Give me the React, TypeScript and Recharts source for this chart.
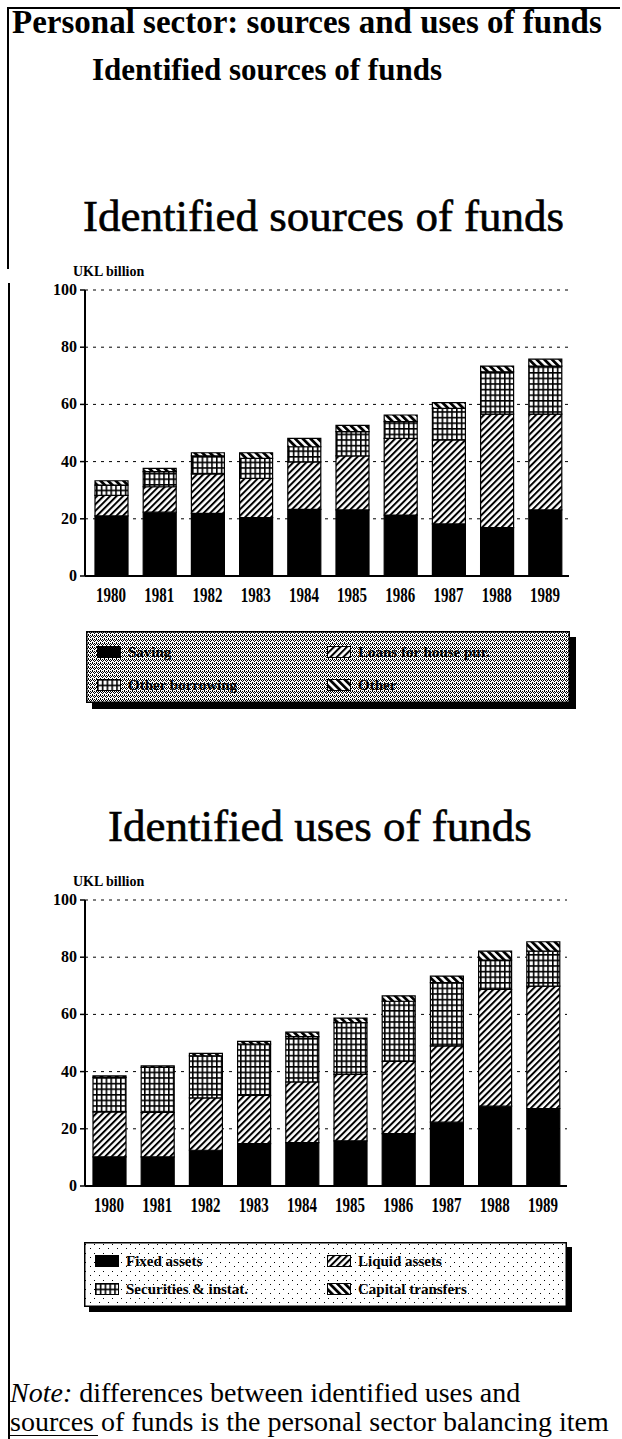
import { BarChart, Bar, XAxis, YAxis, CartesianGrid } from 'recharts'

// Personal sector flows, UKL billion
const years = ['1980', '1981', '1982', '1983', '1984', '1985', '1986', '1987', '1988', '1989']

const saving = [21.0, 22.3, 21.9, 20.4, 23.3, 23.1, 21.3, 18.2, 16.9, 23.1]
const housingLoans = [7.2, 8.9, 13.8, 13.7, 16.6, 18.9, 26.8, 29.4, 39.7, 33.5]
const otherBorrowing = [3.6, 5.3, 6.3, 7.0, 5.3, 8.5, 5.9, 11.0, 14.8, 16.8]
const otherSources = [1.5, 1.1, 1.1, 2.0, 2.9, 2.2, 2.3, 2.0, 2.0, 2.4]

const fixedAssets = [10.2, 10.2, 12.5, 14.8, 15.2, 15.8, 18.3, 22.3, 27.9, 27.1]
const liquidAssets = [15.7, 15.5, 18.3, 16.9, 21.2, 23.2, 25.3, 26.7, 40.8, 42.8]
const securities = [12.1, 15.8, 14.7, 17.9, 15.8, 18.1, 21.0, 22.1, 10.3, 12.2]
const capitalTransfers = [0.5, 0.5, 0.9, 1.0, 1.6, 1.6, 1.9, 2.3, 3.1, 3.3]

const yTicks = [0, 20, 40, 60, 80, 100]

const sourceSeries = [
  { key: 'saving', name: 'Saving', fill: '#000' },
  { key: 'loans', name: 'Loans for house pur.', fill: 'url(#pat-fwd)' },
  { key: 'borrowing', name: 'Other borrowing', fill: 'url(#pat-grid)' },
  { key: 'other', name: 'Other', fill: 'url(#pat-back)' },
]

const useSeries = [
  { key: 'fixed', name: 'Fixed assets', fill: '#000' },
  { key: 'liquid', name: 'Liquid assets', fill: 'url(#pat-fwd)' },
  { key: 'securities', name: 'Securities & instat.', fill: 'url(#pat-grid)' },
  { key: 'capital', name: 'Capital transfers', fill: 'url(#pat-back)' },
]

const sourcesData = years.map((year, i) => ({
  year,
  saving: saving[i],
  loans: housingLoans[i],
  borrowing: otherBorrowing[i],
  other: otherSources[i],
}))

const usesData = years.map((year, i) => ({
  year,
  fixed: fixedAssets[i],
  liquid: liquidAssets[i],
  securities: securities[i],
  capital: capitalTransfers[i],
}))

const SERIF = '"Liberation Serif", "Times New Roman", serif'

function Patterns() {
  return (
    <svg width={0} height={0} style={{ position: 'absolute' }}>
      <defs>
        <pattern id="pat-fwd" patternUnits="userSpaceOnUse" width={4.6} height={4.6} patternTransform="rotate(45)">
          <rect width={4.6} height={4.6} fill="#fff" />
          <rect width={2} height={4.6} fill="#000" />
        </pattern>
        <pattern id="pat-back" patternUnits="userSpaceOnUse" width={5.4} height={5.4} patternTransform="rotate(-45)">
          <rect width={5.4} height={5.4} fill="#fff" />
          <rect width={2.8} height={5.4} fill="#000" />
        </pattern>
        <pattern id="pat-grid" patternUnits="userSpaceOnUse" width={4.8} height={5.6}>
          <rect width={4.8} height={5.6} fill="#000" />
          <rect x={1.6} y={1.6} width={3.2} height={4} fill="#fff" />
        </pattern>
        <pattern id="dither-dense" patternUnits="userSpaceOnUse" width={4} height={4}>
          <rect width={4} height={4} fill="#fff" />
          <rect x={0} y={0} width={1} height={1} fill="#000" />
          <rect x={2} y={0} width={1} height={1} fill="#000" />
          <rect x={1} y={1} width={1} height={1} fill="#000" />
          <rect x={3} y={1} width={1} height={1} fill="#000" />
          <rect x={0} y={2} width={1} height={1} fill="#000" />
          <rect x={2} y={3} width={1} height={1} fill="#000" />
        </pattern>
        <pattern id="dither-light" patternUnits="userSpaceOnUse" width={9} height={9}>
          <rect width={9} height={9} fill="#fff" />
          <rect x={1} y={2} width={1} height={1} fill="#000" />
          <rect x={6} y={6} width={1} height={1} fill="#000" />
        </pattern>
      </defs>
    </svg>
  )
}

function YTick({ x, y, payload }: any) {
  return (
    <text x={x} y={y} dy={5} textAnchor="end" fontFamily={SERIF} fontWeight="bold" fontSize={16} fill="#000">
      {payload.value}
    </text>
  )
}

function XTick({ x, y, payload }: any) {
  return (
    <g transform={`translate(${x},${y})`}>
      <text y={13} transform="scale(1,1.35)" textAnchor="middle" fontFamily={SERIF} fontWeight="bold" fontSize={15} fill="#000">
        {payload.value}
      </text>
    </g>
  )
}

interface StackedProps {
  data: any[]
  series: { key: string; name: string; fill: string }[]
  padLeft: number
  marginRight: number
}

function StackedFunds({ data, series, padLeft, marginRight }: StackedProps) {
  return (
    <BarChart width={600} height={360} data={data} margin={{ top: 30, right: marginRight, left: 0, bottom: 0 }}>
      <CartesianGrid vertical={false} stroke="#000" strokeWidth={1} strokeDasharray="3 5" />
      <XAxis
        dataKey="year"
        height={44}
        tickLine={false}
        axisLine={{ stroke: '#000', strokeWidth: 2 }}
        tick={<XTick />}
        padding={{ left: padLeft, right: 0 }}
        interval={0}
      />
      <YAxis
        width={85}
        domain={[0, 100]}
        ticks={yTicks}
        tickSize={5}
        tickMargin={3}
        axisLine={{ stroke: '#000', strokeWidth: 2 }}
        tickLine={{ stroke: '#000', strokeWidth: 1.5 }}
        tick={<YTick />}
      />
      {series.map((s) => (
        <Bar
          key={s.key}
          dataKey={s.key}
          name={s.name}
          stackId="a"
          barSize={33}
          fill={s.fill}
          stroke="#000"
          strokeWidth={1.2}
          isAnimationActive={false}
        />
      ))}
    </BarChart>
  )
}

interface LegendBoxProps {
  series: { key: string; name: string; fill: string }[]
  left: number
  top: number
  width: number
  height: number
  background: string
  rows: number[]
  cols: number[]
  shadow: number
}

function LegendBox({ series, left, top, width, height, background, rows, cols, shadow }: LegendBoxProps) {
  return (
    <div style={{ position: 'absolute', left, top, width, height }}>
      <div style={{ position: 'absolute', left: shadow, top: shadow, width, height, background: '#000' }} />
      <svg width={width} height={height} style={{ position: 'absolute', left: 0, top: 0 }}>
        <rect x={0.75} y={0.75} width={width - 1.5} height={height - 1.5} fill={background} stroke="#000" strokeWidth={1.5} />
      </svg>
      {series.map((s, i) => (
        <div
          key={s.key}
          style={{
            position: 'absolute',
            left: cols[i % 2],
            top: rows[Math.floor(i / 2)],
            display: 'flex',
            alignItems: 'center',
            whiteSpace: 'nowrap',
          }}
        >
          <svg width={24} height={12}>
            <rect x={0.5} y={0.5} width={23} height={11} fill={s.fill} stroke="#000" strokeWidth={1} />
          </svg>
          <span style={{ marginLeft: 7, fontFamily: SERIF, fontWeight: 'bold', fontSize: 15, lineHeight: '12px', color: '#000' }}>
            {s.name}
          </span>
        </div>
      ))}
    </div>
  )
}

const abs = (left: number, top: number, extra: React.CSSProperties = {}): React.CSSProperties => ({
  position: 'absolute',
  left,
  top,
  whiteSpace: 'nowrap',
  ...extra,
})

const chartTitle: React.CSSProperties = {
  fontFamily: SERIF,
  fontSize: 45,
  lineHeight: '52px',
  WebkitTextStroke: '0.6px #000',
}

export default function App() {
  return (
    <div style={{ position: 'absolute', left: 0, top: 0, width: 622, height: 1439, background: '#fff', overflow: 'hidden', color: '#000' }}>
      <Patterns />

      {/* page frame */}
      <div style={abs(7, 7, { width: 613, height: 2, background: '#000' })} />
      <div style={abs(7, 7, { width: 2, height: 262, background: '#000' })} />
      <div style={abs(8, 283, { width: 2, height: 1156, background: '#000' })} />
      <div style={abs(8, 1435, { width: 90, height: 1, background: '#000' })} />

      <div style={abs(12, 4, { fontFamily: SERIF, fontWeight: 'bold', fontSize: 33, lineHeight: '36px' })}>
        Personal sector: sources and uses of funds
      </div>
      <div style={abs(92, 53, { fontFamily: SERIF, fontWeight: 'bold', fontSize: 31, lineHeight: '34px' })}>
        Identified sources of funds
      </div>

      <div style={abs(83, 190, chartTitle)}>Identified sources of funds</div>
      <div style={abs(73, 264, { fontFamily: SERIF, fontWeight: 'bold', fontSize: 14, lineHeight: '16px' })}>
        UKL billion
      </div>
      <div style={abs(0, 260)}>
        <StackedFunds data={sourcesData} series={sourceSeries} padLeft={2} marginRight={31} />
      </div>
      <LegendBox
        series={sourceSeries}
        left={86}
        top={631}
        width={484}
        height={72}
        background="url(#dither-dense)"
        rows={[15, 48]}
        cols={[11, 241]}
        shadow={6}
      />

      <div style={abs(108, 800, chartTitle)}>Identified uses of funds</div>
      <div style={abs(73, 874, { fontFamily: SERIF, fontWeight: 'bold', fontSize: 14, lineHeight: '16px' })}>
        UKL billion
      </div>
      <div style={abs(0, 870)}>
        <StackedFunds data={usesData} series={useSeries} padLeft={0} marginRight={33} />
      </div>
      <LegendBox
        series={useSeries}
        left={84}
        top={1242}
        width={483}
        height={65}
        background="url(#dither-light)"
        rows={[13, 41]}
        cols={[11, 243]}
        shadow={5}
      />

      <div style={abs(10, 1378, { fontFamily: SERIF, fontSize: 28, lineHeight: '29px' })}>
        <i>Note:</i> differences between identified uses and
        <br />
        sources of funds is the personal sector balancing item
      </div>
    </div>
  )
}
